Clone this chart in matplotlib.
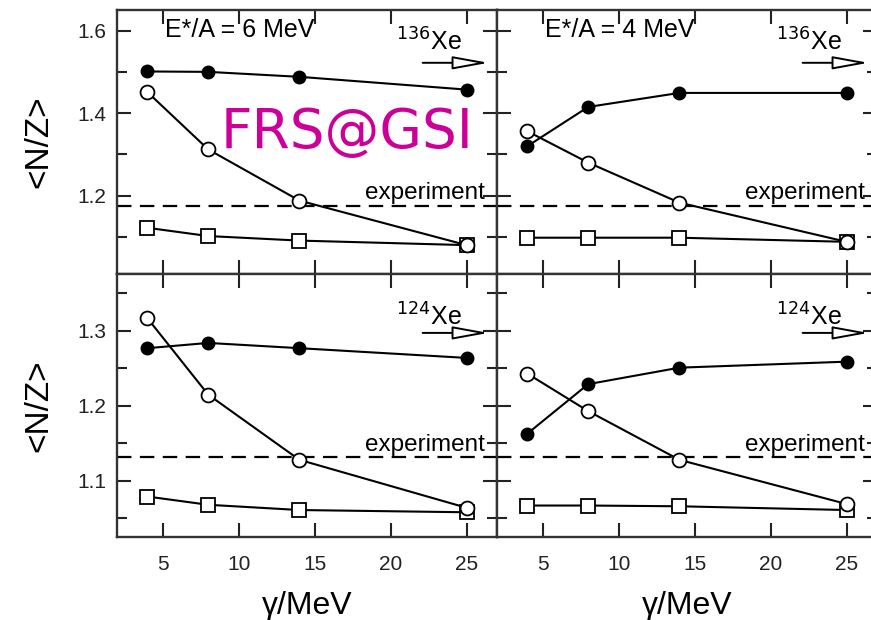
import matplotlib
matplotlib.use("Agg")
import matplotlib.pyplot as plt
from matplotlib.ticker import MultipleLocator, FormatStrFormatter
from matplotlib.patches import FancyArrowPatch

plt.rcParams['font.family'] = ['Liberation Sans', 'DejaVu Sans']

gamma = [4, 8, 14, 25]

# top-left: E*/A = 6 MeV, 136Xe
tl_filled = [1.501, 1.500, 1.488, 1.457]
tl_open = [1.451, 1.312, 1.188, 1.080]
tl_square = [1.122, 1.102, 1.091, 1.080]
tl_exp = 1.176

# top-right: E*/A = 4 MeV, 136Xe
tr_filled = [1.320, 1.415, 1.449, 1.449]
tr_open = [1.356, 1.280, 1.183, 1.088]
tr_square = [1.098, 1.098, 1.098, 1.088]
tr_exp = 1.176

# bottom-left: E*/A = 6 MeV, 124Xe
bl_filled = [1.277, 1.284, 1.277, 1.264]
bl_open = [1.317, 1.215, 1.128, 1.064]
bl_square = [1.079, 1.068, 1.061, 1.058]
bl_exp = 1.132

# bottom-right: E*/A = 4 MeV, 124Xe
br_filled = [1.163, 1.229, 1.251, 1.259]
br_open = [1.243, 1.193, 1.128, 1.069]
br_square = [1.067, 1.067, 1.066, 1.061]
br_exp = 1.132

xticks = [5, 10, 15, 20, 25]
energies = ["E*/A = 6 MeV", "E*/A = 4 MeV"]
nuclei = [r"$^{136}$Xe", r"$^{124}$Xe"]

fig = plt.figure(figsize=(8.71, 6.20), dpi=100)
W = 380 / 871
x0 = 117 / 871
x1 = 497 / 871
yb = 1 - 537 / 620
ym = 1 - 274 / 620
yt = 1 - 10 / 620

axes = {
    (0, 0): fig.add_axes([x0, ym, W, yt - ym]),
    (0, 1): fig.add_axes([x1, ym, W, yt - ym]),
    (1, 0): fig.add_axes([x0, yb, W, ym - yb]),
    (1, 1): fig.add_axes([x1, yb, W, ym - yb]),
}

data = {
    (0, 0): (tl_filled, tl_open, tl_square, tl_exp),
    (0, 1): (tr_filled, tr_open, tr_square, tr_exp),
    (1, 0): (bl_filled, bl_open, bl_square, bl_exp),
    (1, 1): (br_filled, br_open, br_square, br_exp),
}

for (r, c), ax in axes.items():
    filled, opn, sq, exp = data[(r, c)]
    lw = 1.5
    ax.axhline(exp, color='black', lw=1.6, dashes=(6.5, 3.8), zorder=1)
    ax.plot(gamma, sq, color='black', lw=lw, marker='s', ms=10,
            mfc='white', mec='black', mew=1.3, zorder=3)
    ax.plot(gamma, opn, color='black', lw=lw, marker='o', ms=10,
            mfc='white', mec='black', mew=1.3, zorder=4)
    ax.plot(gamma, filled, color='black', lw=lw, marker='o', ms=9,
            mfc='black', mec='black', zorder=5)

    ax.set_xlim(2, 27)
    ax.set_xticks(xticks)
    if r == 0:
        ax.set_ylim(1.01, 1.65)
        ax.yaxis.set_major_locator(MultipleLocator(0.2))
        ax.yaxis.set_minor_locator(MultipleLocator(0.1))
    else:
        ax.set_ylim(1.025, 1.376)
        ax.yaxis.set_major_locator(MultipleLocator(0.1))
        ax.yaxis.set_minor_locator(MultipleLocator(0.05))

    ax.tick_params(which='both', direction='in', top=True, right=True,
                   width=1.5, labelsize=15, colors='#222222')
    ax.tick_params(which='major', length=10)
    ax.tick_params(which='minor', length=7)
    ax.tick_params(axis='y', which='major', pad=8)
    ax.tick_params(axis='x', which='major', pad=13)
    for s in ax.spines.values():
        s.set_linewidth(1.7)
        s.set_color('#333333')

    if r == 0:
        ax.tick_params(labelbottom=False)
    else:
        ax.set_xlabel("γ/MeV", fontsize=23, labelpad=12)
    if c == 1:
        ax.tick_params(labelleft=False)
    else:
        ax.set_ylabel("<N/Z>", fontsize=24, labelpad=16)
        ax.yaxis.set_major_formatter(FormatStrFormatter('%.1f'))

    if r == 0:
        ax.text(0.126, 0.924, energies[c], transform=ax.transAxes,
                fontsize=18, va='center', ha='left')
    ax.text(0.735, 0.877 if r == 0 else 0.835, nuclei[r], transform=ax.transAxes,
            fontsize=18, va='center', ha='left')
    ya = 0.80 if r == 0 else 0.776
    arr = FancyArrowPatch((0.797, ya), (0.985, ya), transform=ax.transAxes,
                          arrowstyle='-|>,head_length=1.1,head_width=0.2',
                          mutation_scale=20, lw=1.4, fc='white', ec='black',
                          clip_on=False, zorder=6)
    ax.add_patch(arr)
    ax.text(0.968, 0.307 if r == 0 else 0.35, "experiment", transform=ax.transAxes,
            fontsize=17.5, va='center', ha='right')

fig.text(0.398, 0.786, "FRS@GSI", color='#CC0099', fontsize=39.5,
         family='DejaVu Sans', ha='center', va='center')

fig.savefig("out.png", dpi=100, facecolor='white')
